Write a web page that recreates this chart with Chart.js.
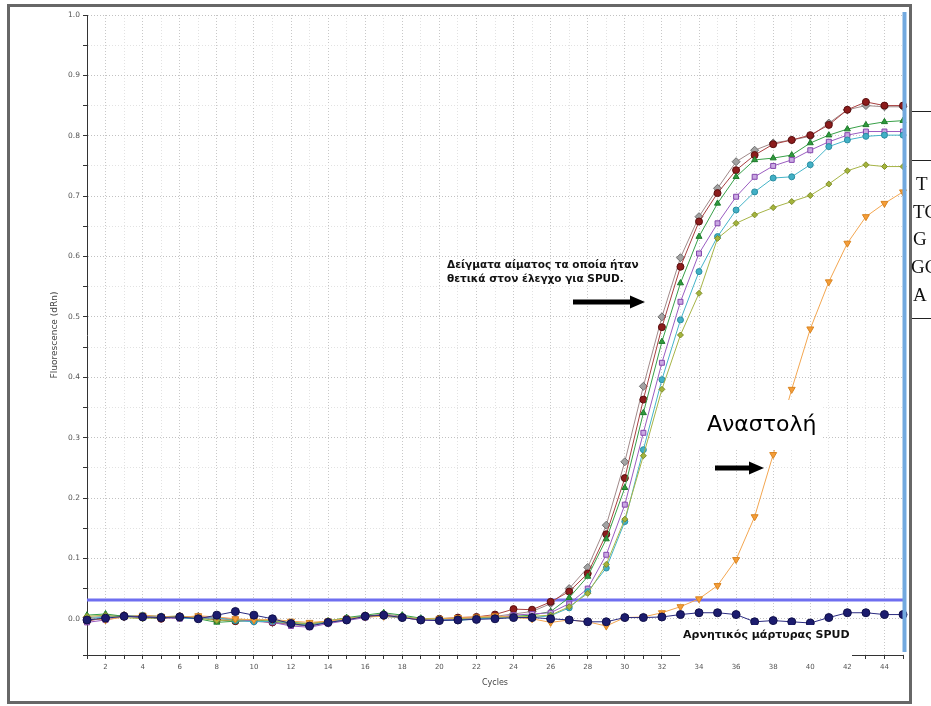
<!DOCTYPE html>
<html>
<head>
<meta charset="utf-8">
<script src="https://cdn.jsdelivr.net/npm/chart.js@4.4.1/dist/chart.umd.min.js"></script>
<style>
  html, body { margin: 0; padding: 0; background: #fff; width: 931px; height: 706px; overflow: hidden; }
  #frame { position: absolute; left: 7px; top: 4px; width: 899px; height: 694px; border: 3px solid #676767; background: #fff; }
  #chart { position: absolute; left: 0; top: 0; }
  .rule { position: absolute; left: 912px; width: 19px; height: 1px; background: #222; }
  .seq { position: absolute; left: 915px; font-family: "Liberation Serif", serif; font-size: 19px; color: #111; line-height: 19px; white-space: nowrap; }
</style>
</head>
<body>
<div id="frame"></div>
<canvas id="chart" width="931" height="706"></canvas>
<div class="rule" style="top:111px"></div>
<div class="rule" style="top:160px"></div>
<div class="rule" style="top:318px"></div>
<div class="seq" style="top:174px;left:916px">T</div>
<div class="seq" style="top:202px;left:913px">TC</div>
<div class="seq" style="top:229px;left:913px">G</div>
<div class="seq" style="top:257px;left:911px">GC</div>
<div class="seq" style="top:285px;left:913px">A</div>
<script>
// Amplification cycles
const cycles = [1, 2, 3, 4, 5, 6, 7, 8, 9, 10, 11, 12, 13, 14, 15, 16, 17, 18, 19, 20,
  21, 22, 23, 24, 25, 26, 27, 28, 29, 30, 31, 32, 33, 34, 35, 36, 37, 38, 39, 40,
  41, 42, 43, 44, 45];

// Fluorescence (dRn) per cycle for each well
const sampleGray = [0.002, 0.004, 0.006, 0.004, 0.003, 0.002, 0.004, 0.0, -0.002, -0.004,
  -0.006, -0.010, -0.012, -0.006, -0.002, 0.004, 0.008, 0.004, -0.001, -0.002,
  0.0, 0.001, 0.004, 0.008, 0.012, 0.025, 0.050, 0.085, 0.155, 0.260,
  0.385, 0.500, 0.598, 0.666, 0.713, 0.757, 0.776, 0.788, 0.793, 0.799,
  0.821, 0.843, 0.850, 0.848, 0.848];
const sampleRed = [-0.004, 0.002, 0.005, 0.003, 0.0, 0.004, 0.002, -0.002, -0.004, -0.003,
  -0.006, -0.008, -0.010, -0.005, 0.0, 0.005, 0.006, 0.002, -0.002, 0.0,
  0.002, 0.003, 0.007, 0.016, 0.015, 0.028, 0.045, 0.075, 0.140, 0.233,
  0.363, 0.483, 0.583, 0.658, 0.705, 0.743, 0.768, 0.786, 0.793, 0.801,
  0.818, 0.843, 0.856, 0.850, 0.850];
const sampleGreen = [0.006, 0.008, 0.004, 0.002, 0.001, 0.003, 0.0, -0.006, -0.004, -0.002,
  -0.004, -0.006, -0.008, -0.004, 0.002, 0.006, 0.010, 0.006, 0.001, -0.002,
  -0.001, 0.0, 0.002, 0.004, 0.006, 0.012, 0.035, 0.070, 0.132, 0.217,
  0.341, 0.459, 0.556, 0.633, 0.688, 0.732, 0.760, 0.763, 0.768, 0.788,
  0.801, 0.811, 0.818, 0.823, 0.825];
const samplePurple = [-0.006, -0.002, 0.004, 0.002, 0.002, 0.0, 0.003, 0.002, -0.001, -0.004,
  -0.006, -0.012, -0.014, -0.008, -0.003, 0.002, 0.006, 0.002, -0.002, -0.003,
  0.0, 0.001, 0.002, 0.006, 0.008, 0.010, 0.025, 0.050, 0.106, 0.189,
  0.308, 0.424, 0.525, 0.605, 0.655, 0.699, 0.732, 0.750, 0.760, 0.776,
  0.790, 0.801, 0.807, 0.807, 0.807];
const sampleCyan = [0.0, 0.003, 0.004, 0.006, 0.004, 0.001, 0.0, 0.002, -0.003, -0.005,
  -0.004, -0.008, -0.010, -0.006, 0.0, 0.004, 0.004, 0.001, 0.0, -0.002,
  -0.003, 0.0, 0.001, 0.002, 0.002, 0.005, 0.018, 0.045, 0.084, 0.161,
  0.280, 0.396, 0.495, 0.575, 0.633, 0.677, 0.707, 0.730, 0.732, 0.752,
  0.782, 0.793, 0.799, 0.801, 0.801];
const sampleOlive = [0.004, 0.006, 0.002, 0.0, 0.003, 0.005, 0.001, -0.003, -0.002, -0.001,
  -0.003, -0.007, -0.009, -0.003, 0.001, 0.003, 0.005, 0.003, 0.0, 0.001,
  0.0, 0.002, 0.003, 0.003, 0.004, 0.006, 0.020, 0.042, 0.090, 0.165,
  0.270, 0.380, 0.470, 0.539, 0.630, 0.655, 0.669, 0.681, 0.691, 0.701,
  0.720, 0.742, 0.752, 0.749, 0.749];
const sampleInhibited = [0.0, -0.002, 0.003, 0.006, 0.004, 0.002, 0.005, 0.003, 0.0, -0.002,
  -0.001, -0.004, -0.006, -0.004, 0.0, 0.003, 0.004, 0.002, -0.001, 0.0,
  0.002, 0.003, 0.005, 0.002, 0.0, -0.006, -0.002, -0.005, -0.012, 0.002,
  0.003, 0.010, 0.020, 0.033, 0.055, 0.098, 0.169, 0.272, 0.380, 0.480,
  0.558, 0.622, 0.666, 0.688, 0.707];
const negativeControl = [-0.002, 0.001, 0.004, 0.003, 0.002, 0.003, 0.0, 0.006, 0.012, 0.006,
  0.0, -0.008, -0.012, -0.006, -0.002, 0.004, 0.006, 0.002, -0.002, -0.003,
  -0.002, -0.001, 0.0, 0.002, 0.002, 0.0, -0.002, -0.005, -0.005, 0.002,
  0.002, 0.003, 0.007, 0.010, 0.010, 0.007, -0.005, -0.003, -0.005, -0.007,
  0.002, 0.010, 0.010, 0.007, 0.007];

// Detection threshold (dRn)
const threshold = 0.031;

function well(values, line, fill, border, style, extra) {
  return Object.assign({
    data: values,
    borderColor: line,
    borderWidth: 1,
    pointBackgroundColor: fill,
    pointBorderColor: border,
    pointBorderWidth: 1,
    pointStyle: style,
    pointRadius: 3.5,
    tension: 0
  }, extra || {});
}

// Threshold line under the curves, cycle-end marker and callouts on top
const overlay = {
  id: 'overlay',
  beforeDatasetsDraw(chart) {
    const { ctx, chartArea: a, scales: { y } } = chart;
    const ty = y.getPixelForValue(threshold);
    ctx.save();
    ctx.strokeStyle = '#6e6ef0';
    ctx.lineWidth = 3;
    ctx.beginPath();
    ctx.moveTo(a.left, ty);
    ctx.lineTo(a.right + 2, ty);
    ctx.stroke();
    ctx.restore();
  },
  afterDraw(chart) {
    const { ctx, chartArea: a, scales: { x } } = chart;
    ctx.save();
    // last-cycle marker
    const vx = x.getPixelForValue(cycles.length - 1) + 1.5;
    ctx.strokeStyle = '#72a9df';
    ctx.lineWidth = 4;
    ctx.beginPath();
    ctx.moveTo(vx, a.top - 3);
    ctx.lineTo(vx, a.bottom - 3);
    ctx.stroke();

    const arrow = (x0, x1, yy) => {
      ctx.fillStyle = '#000';
      ctx.fillRect(x0, yy - 2.5, x1 - x0 - 13, 5);
      ctx.beginPath();
      ctx.moveTo(x1 - 15, yy - 6.5);
      ctx.lineTo(x1, yy);
      ctx.lineTo(x1 - 15, yy + 6.5);
      ctx.closePath();
      ctx.fill();
    };

    // positive samples callout
    ctx.fillStyle = '#111';
    ctx.font = 'bold 10.5px "DejaVu Sans", sans-serif';
    ctx.textBaseline = 'middle';
    ctx.textAlign = 'left';
    ctx.fillText('Δείγματα αίματος τα οποία ήταν', 447, 265);
    ctx.fillText('θετικά στον έλεγχο για SPUD.', 447, 279);
    arrow(573, 645, 302);

    // inhibition callout
    ctx.fillStyle = '#fff';
    ctx.fillRect(673, 400, 149, 50);
    ctx.fillStyle = '#000';
    ctx.font = '22px "DejaVu Sans", sans-serif';
    ctx.fillText('Αναστολή', 707, 425);
    arrow(715, 764, 468);

    // negative control label
    ctx.fillStyle = '#fff';
    ctx.fillRect(680, 625, 172, 37);
    ctx.fillStyle = '#111';
    ctx.font = 'bold 11px "DejaVu Sans", sans-serif';
    ctx.fillText('Αρνητικός μάρτυρας SPUD', 683, 635);
    ctx.restore();
  }
};

new Chart(document.getElementById('chart'), {
  type: 'line',
  data: {
    labels: cycles,
    datasets: [
      well(negativeControl, '#2a2a80', '#1c1c6e', '#10104a', 'circle', { pointRadius: 4 }),
      well(sampleInhibited, '#f3a650', '#f59d38', '#d98420', 'triangle', { pointRotation: 180, pointRadius: 4 }),
      well(sampleOlive, '#a6b446', '#a4b43c', '#7e8c28', 'rectRot', { pointRadius: 3 }),
      well(sampleCyan, '#45b4c8', '#42b0c6', '#2a8ea2', 'circle', { pointRadius: 3 }),
      well(samplePurple, '#9a5cc0', '#c9a8e2', '#8446ad', 'rect'),
      well(sampleGreen, '#38a048', '#2f9a3c', '#1e7a2c', 'triangle'),
      well(sampleRed, '#a84040', '#8c1c1c', '#5a0e0e', 'circle'),
      well(sampleGray, '#a08a8a', '#a2a2a2', '#6e6e6e', 'rectRot', { pointRadius: 4 })
    ]
  },
  options: {
    responsive: false,
    animation: false,
    layout: { padding: { left: 45, right: 28, top: 15, bottom: 14 } },
    plugins: { legend: { display: false }, tooltip: { enabled: false } },
    scales: {
      x: {
        type: 'category',
        offset: false,
        grid: {
          color: c => (cycles[c.index] % 2 === 0 ? '#c8c8c8' : '#e2e2e2'),
          tickColor: '#333',
          tickLength: 4
        },
        border: { color: '#333', width: 1, dash: [1, 2] },
        ticks: {
          autoSkip: false,
          maxRotation: 0,
          padding: 4,
          color: '#555',
          font: { family: '"DejaVu Sans", sans-serif', size: 7 },
          callback: (v, i) => (cycles[i] % 2 === 0 ? String(cycles[i]) : '')
        },
        title: { display: true, text: 'Cycles', color: '#444', font: { family: '"DejaVu Sans", sans-serif', size: 8 } },
        afterFit: s => { s.height = 37; }
      },
      y: {
        min: -0.06,
        max: 1.0,
        grid: {
          color: c => {
            const v = c.tick ? c.tick.value : 0;
            return Math.abs(v * 10 - Math.round(v * 10)) < 1e-6 ? '#c2c2c2' : '#e2e2e2';
          },
          tickColor: '#333',
          tickLength: 4
        },
        border: { color: '#333', width: 1, dash: [1, 2] },
        ticks: {
          stepSize: 0.05,
          padding: 3,
          color: '#555',
          font: { family: '"DejaVu Sans", sans-serif', size: 7.5 },
          callback: v => {
            const r = Math.round(v * 10) / 10;
            return Math.abs(v - r) < 1e-6 ? r.toFixed(1) : '';
          }
        },
        title: { display: true, text: 'Fluorescence (dRn)', color: '#444', font: { family: '"DejaVu Sans", sans-serif', size: 9 } },
        afterFit: s => { s.width = 42; }
      }
    }
  },
  plugins: [overlay]
});
</script>
</body>
</html>
